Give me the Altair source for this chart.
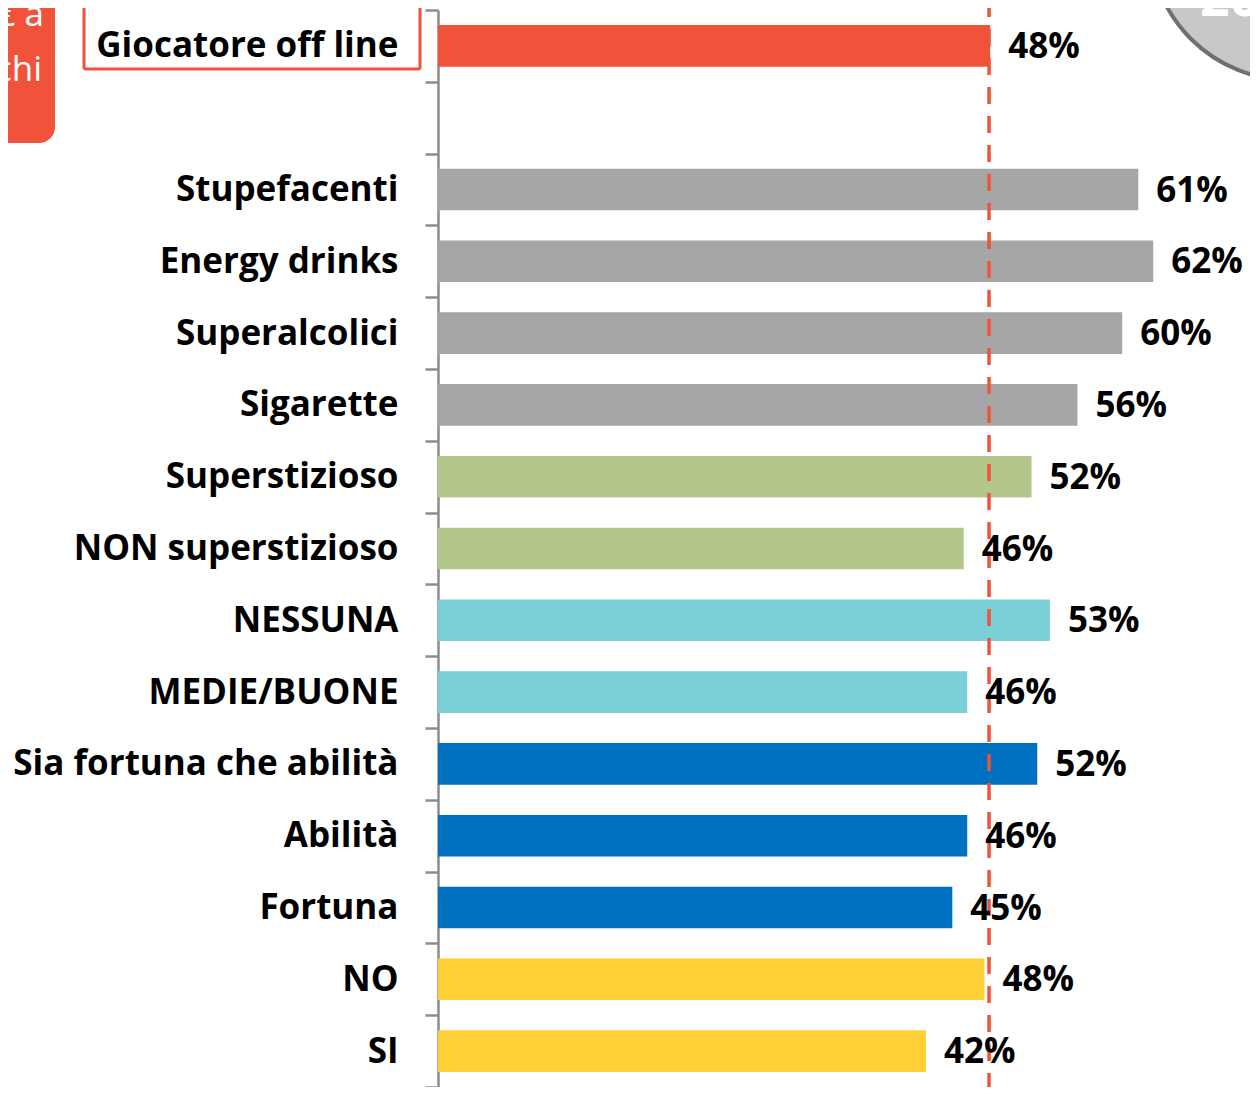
import altair as alt
import pandas as pd

categories = ["Giocatore off line", " ", "Stupefacenti", "Energy drinks", "Superalcolici",
              "Sigarette", "Superstizioso", "NON superstizioso", "NESSUNA", "MEDIE/BUONE",
              "Sia fortuna che abilità", "Abilità", "Fortuna", "NO", "SI"]
bar_categories = ["Giocatore off line", "Stupefacenti", "Energy drinks", "Superalcolici",
                  "Sigarette", "Superstizioso", "NON superstizioso", "NESSUNA", "MEDIE/BUONE",
                  "Sia fortuna che abilità", "Abilità", "Fortuna", "NO", "SI"]
values = [48.1, 61.0, 62.3, 59.6, 55.7, 51.7, 45.8, 53.3, 46.1, 52.2, 46.1, 44.8, 47.6, 42.5]
labels = ["48%", "61%", "62%", "60%", "56%", "52%", "46%", "53%", "46%", "52%", "46%", "45%", "48%", "42%"]
colors = ["#F0533A", "#A6A6A6", "#A6A6A6", "#A6A6A6", "#A6A6A6", "#B3C78D", "#B3C78D",
          "#7BCFD8", "#7BCFD8", "#0070C0", "#0070C0", "#0070C0", "#FFD036", "#FFD036"]
reference_value = [48]

df = pd.DataFrame({"cat": bar_categories, "value": values, "label": labels, "color": colors})
ref = pd.DataFrame({"value": reference_value})
one = pd.DataFrame({"a": [0]})

FONT = "Open Sans"
FS = 35
W, H = 812, 1077

xscale = alt.Scale(domain=[0, W / 11.48], nice=False, zero=True)
x = alt.X("value:Q", scale=xscale, axis=None)
y = alt.Y("cat:N", sort=categories,
          scale=alt.Scale(domain=categories, paddingInner=0, paddingOuter=0),
          axis=alt.Axis(title=None, tickBand="extent", domainColor="#8C8C8C", domainWidth=2.5,
                        tickColor="#8C8C8C", tickWidth=2.5, tickSize=13, labelFont=FONT,
                        labelFontWeight="bold", labelFontSize=FS, labelColor="black",
                        labelPadding=27, labelLimit=0, grid=False))

bars = alt.Chart(df).mark_bar(height={"band": 0.58}).encode(
    x=x, y=y, color=alt.Color("color:N", scale=None))

rule = alt.Chart(ref).mark_rule(color="#F0533A", strokeWidth=3.5, strokeDash=[17, 12]).encode(
    x=alt.X("value:Q", scale=xscale, axis=None), y=alt.value(-10), y2=alt.value(1078))

text = alt.Chart(df).mark_text(align="left", baseline="middle", dx=18, dy=1, font=FONT,
                               fontWeight="bold", fontSize=FS, color="black").encode(
    x=alt.X("value:Q", scale=xscale, axis=None), y=y, text="label:N")

box = alt.Chart(one).mark_rect(filled=False, stroke="#F0533A", strokeWidth=3, cornerRadius=2).encode(
    x=alt.value(-354), x2=alt.value(-18), y=alt.value(-5), y2=alt.value(59))

callout = alt.Chart(one).mark_rect(fill="#F0533A", cornerRadius=16).encode(
    x=alt.value(-470), x2=alt.value(-383), y=alt.value(-40), y2=alt.value(133))

callout_t1 = alt.Chart(one).mark_text(text="€ a", align="right", baseline="alphabetic",
                                      font=FONT, fontSize=FS, color="white").encode(
    x=alt.value(-394), y=alt.value(16))
callout_t2 = alt.Chart(one).mark_text(text="chi", align="right", baseline="alphabetic",
                                      font=FONT, fontSize=FS, color="white").encode(
    x=alt.value(-396), y=alt.value(71))

circle = alt.Chart(one).mark_point(shape="circle", size=78400, filled=True, fill="#C8C8C8",
                                   stroke="#707070", strokeWidth=4, opacity=1).encode(
    x=alt.value(852), y=alt.value(-70))
circle_t = alt.Chart(one).mark_text(text="20", align="left", baseline="alphabetic", font=FONT,
                                    fontWeight="bold", fontSize=52, color="white").encode(
    x=alt.value(762), y=alt.value(6))

chart = alt.layer(callout, callout_t1, callout_t2, circle, circle_t, bars, rule, text, box).properties(
    width=W, height=H,
    padding={"left": 430, "top": 2, "right": 0, "bottom": 0},
    autosize=alt.AutoSizeParams(type="none"),
    background="white",
).configure_view(strokeWidth=0, stroke="transparent")

chart.save("out.html", embed_options={"renderer": "svg", "actions": False})
